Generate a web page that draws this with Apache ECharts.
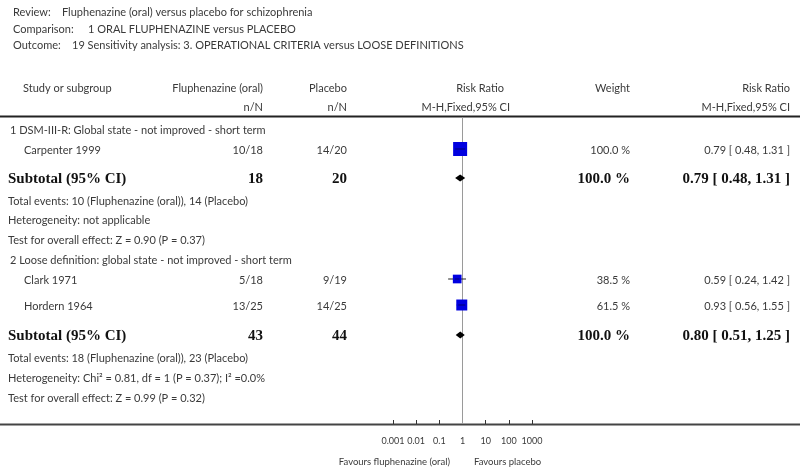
<!DOCTYPE html>
<html>
<head>
<meta charset="utf-8">
<script src="https://cdn.jsdelivr.net/npm/echarts@6/dist/echarts.min.js"></script>
<style>
  html, body { margin: 0; padding: 0; background: #fff; }
  #main { width: 800px; height: 468px; }
</style>
</head>
<body>
<div id="main"></div>
<script>
// study level data
const studies = ['Carpenter 1999', 'Clark 1971', 'Hordern 1964'];
const drugEvents = [10, 5, 13];
const drugTotal = [18, 18, 25];
const placEvents = [14, 9, 14];
const placTotal = [20, 19, 25];
const studyRR = [0.79, 0.59, 0.93];
const studyLo = [0.48, 0.24, 0.56];
const studyHi = [1.31, 1.42, 1.55];
const studyWeight = [100.0, 38.5, 61.5];

// subgroups
const groupNames = ['1 DSM-III-R: Global state - not improved - short term', '2 Loose definition: global state - not improved - short term'];
const subDrugTotal = [18, 43];
const subPlacTotal = [20, 44];
const subRR = [0.79, 0.80];
const subLo = [0.48, 0.51];
const subHi = [1.31, 1.25];
const subWeight = [100.0, 100.0];
const totalEvents = ['Total events: 10 (Fluphenazine (oral)), 14 (Placebo)', 'Total events: 18 (Fluphenazine (oral)), 23 (Placebo)'];
const heterogeneity = ['Heterogeneity: not applicable', 'Heterogeneity: Chi\u00b2 = 0.81, df = 1 (P = 0.37); I\u00b2 =0.0%'];
const overallEffect = ['Test for overall effect: Z = 0.90 (P = 0.37)', 'Test for overall effect: Z = 0.99 (P = 0.32)'];

const axisTicks = [0.001, 0.01, 0.1, 1, 10, 100, 1000];

// layout (page pixels)
const studyY = [150, 280, 306];
const groupY = [130, 260];
const subY = [179, 336];
const infoY = [[201, 220, 240], [358, 378, 398]];
const plotTop = 117, plotBottom = 424;

const FONT = 'Lato';
const GRAY = '#3a3a3a';

function txt(x, y, s, opt) {
  opt = opt || {};
  return {
    type: 'text', x: x, y: y, silent: true,
    style: {
      text: s, fill: opt.color || GRAY,
      font: (opt.bold ? 'bold ' : '') + (opt.size || 11) + 'px ' + (opt.family || FONT),
      textAlign: opt.align || 'left', textVerticalAlign: 'middle'
    }
  };
}
function bold(x, y, s, align) {
  return txt(x, y, s, { bold: true, size: 15, family: '"Liberation Serif", serif', color: '#111', align: align });
}
const f2 = v => v.toFixed(2);
const ci = (r, l, h) => f2(r) + ' [ ' + f2(l) + ', ' + f2(h) + ' ]';

const g = [];
// title block
g.push(txt(13, 12, 'Review:'), txt(62, 12, 'Fluphenazine (oral) versus placebo for schizophrenia'));
g.push(txt(13, 29, 'Comparison:'), txt(88, 29, '1 ORAL FLUPHENAZINE versus PLACEBO'));
g.push(txt(13, 45, 'Outcome:'), txt(72, 45, '19 Sensitivity analysis: 3. OPERATIONAL CRITERIA versus LOOSE DEFINITIONS'));
// header
g.push(txt(23, 88, 'Study or subgroup'), txt(263, 88, 'Fluphenazine (oral)', { align: 'right' }),
  txt(347, 88, 'Placebo', { align: 'right' }), txt(504, 88, 'Risk Ratio', { align: 'right' }),
  txt(630, 88, 'Weight', { align: 'right' }), txt(790, 88, 'Risk Ratio', { align: 'right' }));
g.push(txt(263, 107, 'n/N', { align: 'right' }), txt(347, 107, 'n/N', { align: 'right' }),
  txt(510, 107, 'M-H,Fixed,95% CI', { align: 'right' }), txt(790, 107, 'M-H,Fixed,95% CI', { align: 'right' }));
g.push({ type: 'line', silent: true, shape: { x1: 0, y1: 116.5, x2: 800, y2: 116.5 }, style: { stroke: '#222', lineWidth: 2 } });
g.push({ type: 'line', silent: true, shape: { x1: 0, y1: 424.5, x2: 800, y2: 424.5 }, style: { stroke: '#444', lineWidth: 2 } });

groupNames.forEach((name, k) => {
  g.push(txt(10, groupY[k], name));
  g.push(bold(8, subY[k], 'Subtotal (95% CI)'), bold(263, subY[k], String(subDrugTotal[k]), 'right'),
    bold(347, subY[k], String(subPlacTotal[k]), 'right'),
    bold(630, subY[k], subWeight[k].toFixed(1) + ' %', 'right'),
    bold(790, subY[k], ci(subRR[k], subLo[k], subHi[k]), 'right'));
  g.push(txt(8, infoY[k][0], totalEvents[k]), txt(8, infoY[k][1], heterogeneity[k]), txt(8, infoY[k][2], overallEffect[k]));
});
studies.forEach((s, i) => {
  g.push(txt(24, studyY[i], s), txt(263, studyY[i], drugEvents[i] + '/' + drugTotal[i], { align: 'right' }),
    txt(347, studyY[i], placEvents[i] + '/' + placTotal[i], { align: 'right' }),
    txt(630, studyY[i], studyWeight[i].toFixed(1) + ' %', { align: 'right' }),
    txt(790, studyY[i], ci(studyRR[i], studyLo[i], studyHi[i]), { align: 'right' }));
});
g.push(txt(450, 462, 'Favours fluphenazine (oral)', { align: 'right', size: 9.5 }),
  txt(474, 462, 'Favours placebo', { size: 9.5 }));

const studyData = studies.map((s, i) => [studyRR[i], studyY[i] - 1, studyLo[i], studyHi[i], studyWeight[i]]);
const subData = subRR.map((r, k) => [r, subY[k] - 1, subLo[k], subHi[k]]);

const chart = echarts.init(document.getElementById('main'));
chart.setOption({
  animation: false,
  grid: { left: 393, width: 139, top: plotTop, height: plotBottom - plotTop },
  xAxis: {
    type: 'log', logBase: 10, min: axisTicks[0], max: axisTicks[axisTicks.length - 1],
    axisLine: { show: false },
    axisTick: { show: true, inside: true, length: 4, lineStyle: { color: '#333' } },
    minorTick: { show: false },
    splitLine: { show: false },
    axisLabel: {
      margin: 13, fontSize: 9, color: GRAY, fontFamily: FONT,
      formatter: v => String(parseFloat(Number(v).toPrecision(6)))
    }
  },
  yAxis: { type: 'value', min: plotTop, max: plotBottom, inverse: true, show: false },
  graphic: g,
  series: [
    {
      // line of no effect
      type: 'line', data: [], silent: true, z: 1,
      markLine: {
        z: 1, silent: true, symbol: 'none', label: { show: false },
        lineStyle: { color: '#9a9a9a', width: 1, type: 'solid' },
        data: [{ xAxis: 1 }]
      }
    },
    {
      type: 'custom', data: studyData, silent: true, z: 8,
      renderItem: (params, api) => {
        const y = api.value(1);
        const c = api.coord([api.value(0), y]);
        const l = api.coord([api.value(2), y]);
        const h = api.coord([api.value(3), y]);
        const size = 14 * Math.sqrt(api.value(4) / 100);
        return {
          type: 'group', children: [
            { type: 'line', shape: { x1: l[0], y1: c[1], x2: h[0], y2: c[1] }, style: { stroke: '#222', lineWidth: 1 } },
            { type: 'rect', shape: { x: c[0] - size / 2, y: c[1] - size / 2, width: size, height: size }, style: { fill: '#0000e0' } },
            { type: 'line', shape: { x1: c[0] - size / 2 + 2, y1: c[1], x2: c[0] + size / 2 - 2, y2: c[1] }, style: { stroke: '#000070', lineWidth: 1 } }
          ]
        };
      }
    },
    {
      type: 'custom', data: subData, silent: true, z: 9,
      renderItem: (params, api) => {
        const y = api.value(1);
        const c = api.coord([api.value(0), y]);
        const l = api.coord([api.value(2), y]);
        const h = api.coord([api.value(3), y]);
        return {
          type: 'polygon',
          shape: { points: [[l[0], c[1]], [c[0], c[1] - 3.5], [h[0], c[1]], [c[0], c[1] + 3.5]] },
          style: { fill: '#000' }
        };
      }
    }
  ]
});
</script>
</body>
</html>
